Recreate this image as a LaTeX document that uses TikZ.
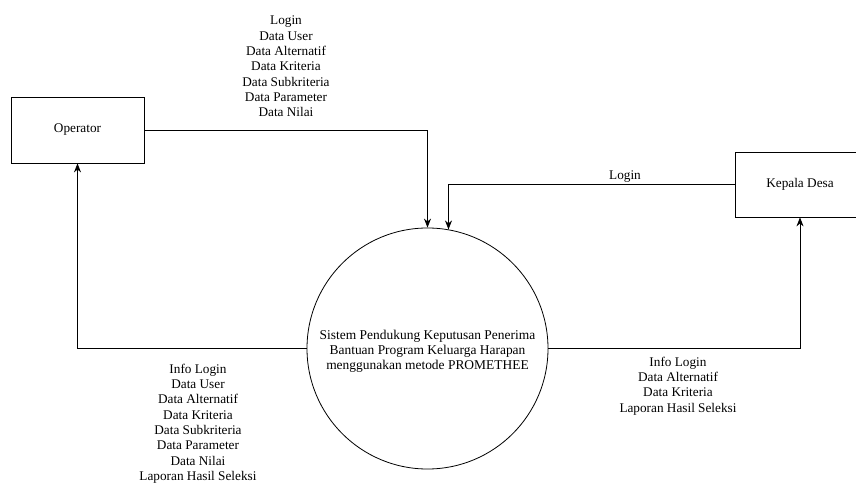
\documentclass[tikz,border=0pt]{standalone}
\usepackage{fontspec}
\setmainfont{Liberation Serif}
\usetikzlibrary{arrows.meta}
\begin{document}
\begin{tikzpicture}[x=1bp,y=-1bp, line width=0.8bp,
  ent/.style={draw, minimum width=133bp, minimum height=66bp, inner sep=0pt, font=\fontsize{13.3}{15.3}\selectfont},
  proc/.style={draw, circle, minimum size=241bp, inner sep=0pt, align=center, text height=44bp, text depth=3bp, font=\fontsize{13.5}{14.6}\selectfont},
  lbl/.style={align=center, inner sep=0pt, font=\fontsize{13.3}{15.4}\selectfont},
  flow/.style={-{Stealth[length=9bp,width=7bp]}}]
\useasboundingbox (0,0) rectangle (856,483);
\node[ent] (op) at (77.5,130) {\raisebox{-2.5bp}{Operator}};
\node[ent, minimum width=130bp, minimum height=65bp] (kd) at (800,184.5) {\raisebox{-2.5bp}{Kepala Desa}};
\node[proc] (sys) at (427.5,348.5) {Sistem Pendukung Keputusan Penerima\\Bantuan Program Keluarga Harapan\\menggunakan metode PROMETHEE};
\draw[flow] (op.east) -| (sys.north);
\draw[flow] (kd.west) -| (sys.80);
\draw[flow] (sys.west) -| (op.south);
\draw[flow] (sys.east) -| (kd.south);
\node[lbl] (l1) at (286,66.5) {Login\\Data User\\Data Alternatif\\Data Kriteria\\Data Subkriteria\\Data Parameter\\Data Nilai};
\node[lbl] (l2) at (625,177) {Login};
\node[lbl] (l3) at (198,423.5) {Info Login\\Data User\\Data Alternatif\\Data Kriteria\\Data Subkriteria\\Data Parameter\\Data Nilai\\Laporan Hasil Seleksi};
\node[lbl] (l4) at (678,386) {Info Login\\Data Alternatif\\Data Kriteria\\Laporan Hasil Seleksi};
\end{tikzpicture}
\end{document}
